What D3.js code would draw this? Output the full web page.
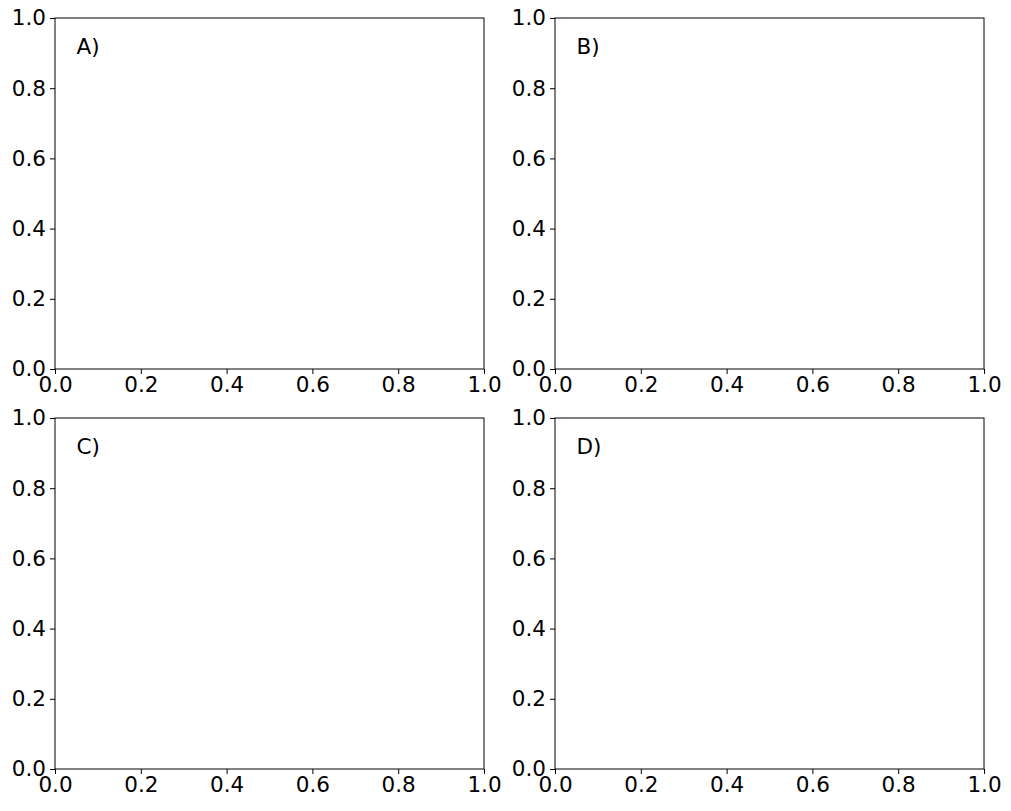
<!DOCTYPE html>
<html><head><meta charset="utf-8">
<script src="https://cdn.jsdelivr.net/npm/d3@7"></script>
<style>body{margin:0;background:#fff}svg{display:block}text{font-family:"DejaVu Sans",sans-serif}</style>
</head><body>
<script>
const panelLabels = ["A)", "B)", "C)", "D)"];
const xTicks = [0.0, 0.2, 0.4, 0.6, 0.8, 1.0];
const yTicks = [0.0, 0.2, 0.4, 0.6, 0.8, 1.0];
const W = 1011, H = 811;
const svg = d3.select("body").append("svg").attr("width", W).attr("height", H);
const lefts = [55, 555], tops = [18, 418], pw = 429, ph = 351;
panelLabels.forEach((lab, i) => {
  const x0 = lefts[i % 2], y0 = tops[Math.floor(i / 2)];
  const g = svg.append("g").attr("transform", `translate(${x0},${y0})`);
  const x = d3.scaleLinear().domain([0, 1]).range([0, pw]);
  const y = d3.scaleLinear().domain([0, 1]).range([ph, 0]);
  const fmt = d3.format(".1f");
  const ax = g.append("g").attr("transform", `translate(0,${ph})`)
    .call(d3.axisBottom(x).tickValues(xTicks).tickFormat(fmt).tickSizeOuter(0).tickSize(5).tickPadding(3));
  const ay = g.append("g").call(d3.axisLeft(y).tickValues(yTicks).tickFormat(fmt).tickSizeOuter(0).tickSize(5).tickPadding(4));
  [ax, ay].forEach(a => {
    a.select(".domain").remove();
    a.selectAll("text").attr("font-size", 21.5).attr("fill", "#000").attr("font-family", "DejaVu Sans");
    a.selectAll("line").attr("stroke", "#000");
  });
  g.append("rect").attr("width", pw).attr("height", ph).attr("fill", "none").attr("stroke", "#000").attr("stroke-width", 1);
  g.append("text").attr("x", x(0.05)).attr("y", y(0.92)).attr("dy", "0.35em")
    .attr("font-size", 21.5).text(lab);
});
</script>
</body></html>
